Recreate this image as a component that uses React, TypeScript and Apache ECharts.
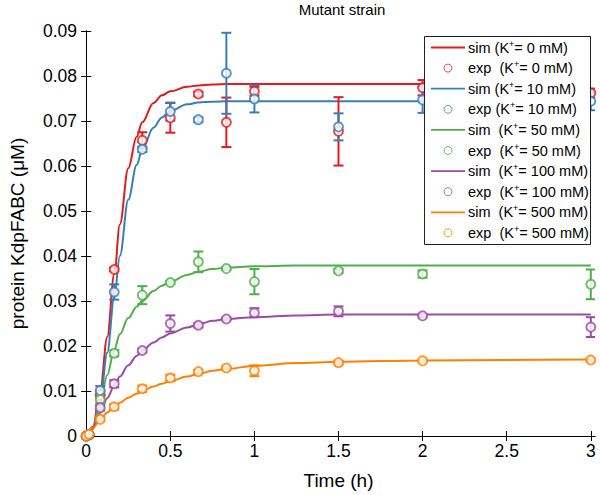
import React, { useEffect, useRef } from "react";
import * as echarts from "echarts";

// ---- data ----
const expTimes = [0, 0.0167, 0.0833, 0.1667, 0.3333, 0.5, 0.6667, 0.8333, 1, 1.5, 2, 3];
const exp0 = [0, 0.0003, 0.0092, 0.037, 0.0657, 0.0707, 0.076, 0.0697, 0.0766, 0.0677, 0.0774, 0.0762];
const err0 = [0, 0.0002, 0.0008, 0.0004, 0.0018, 0.0033, 0.0005, 0.0055, 0.001, 0.0076, 0.0017, 0.001];
const exp10 = [0, 0.0003, 0.0101, 0.032, 0.0637, 0.0721, 0.0703, 0.0806, 0.0749, 0.0687, 0.0747, 0.0744];
const err10 = [0, 0.0002, 0.001, 0.0017, 0.0006, 0.002, 0.0005, 0.009, 0.003, 0.003, 0.0029, 0.002];
const exp50 = [0, 0.0003, 0.0081, 0.0184, 0.0313, 0.0341, 0.0387, 0.0372, 0.0343, 0.0367, 0.036, 0.0337];
const err50 = [0, 0.0002, 0.0007, 0.0007, 0.002, 0.0003, 0.0023, 0.0003, 0.0028, 0.0004, 0.0008, 0.0033];
const exp100 = [0, 0.0003, 0.0063, 0.0116, 0.019, 0.025, 0.0246, 0.026, 0.0274, 0.0277, 0.0267, 0.0242];
const err100 = [0, 0.0002, 0.0006, 0.0008, 0.0004, 0.0018, 0.0005, 0.0003, 0.001, 0.0011, 0.0003, 0.0022];
const exp500 = [0, 0.0004, 0.0037, 0.0065, 0.0105, 0.0129, 0.0143, 0.0151, 0.0145, 0.0163, 0.0167, 0.0169];
const err500 = [0, 0.0002, 0.0004, 0.0006, 0.0007, 0.0007, 0.0004, 0.0003, 0.0012, 0.0004, 0.0002, 0.0003];

const simTimes = [0, 0.04, 0.083, 0.125, 0.167, 0.2, 0.25, 0.3, 0.333, 0.4, 0.45, 0.5, 0.6, 0.667, 0.75, 0.833, 1, 1.25, 1.5, 2, 2.5, 3];
const sim0 = [0, 0.002, 0.01, 0.022, 0.036, 0.047, 0.0595, 0.0665, 0.0697, 0.074, 0.0757, 0.0766, 0.0776, 0.0779, 0.0781, 0.0782, 0.0782, 0.0782, 0.0782, 0.0782, 0.0782, 0.0782];
const sim10 = [0, 0.0015, 0.008, 0.0185, 0.031, 0.04, 0.0525, 0.0602, 0.0637, 0.0685, 0.0708, 0.0722, 0.0737, 0.0741, 0.0743, 0.0744, 0.0744, 0.0744, 0.0744, 0.0744, 0.0744, 0.0744];
const sim50 = [0, 0.0018, 0.0075, 0.0135, 0.0192, 0.0226, 0.0262, 0.0287, 0.03, 0.0322, 0.0334, 0.0343, 0.0358, 0.0365, 0.0371, 0.0374, 0.0377, 0.0379, 0.0379, 0.0379, 0.0379, 0.0379];
const sim100 = [0, 0.0018, 0.0052, 0.0084, 0.0112, 0.0132, 0.0157, 0.0178, 0.0189, 0.0208, 0.0219, 0.0228, 0.0241, 0.0248, 0.0256, 0.026, 0.0264, 0.0268, 0.027, 0.027, 0.027, 0.027];
const sim500 = [0, 0.0017, 0.0037, 0.0052, 0.0064, 0.0074, 0.0085, 0.0094, 0.01, 0.011, 0.0116, 0.0122, 0.0132, 0.0138, 0.0145, 0.0149, 0.0156, 0.0162, 0.0165, 0.0168, 0.0169, 0.017];

const concentrations = ["0", "10", "50", "100", "500"];
const simLabelPrefix = ["sim (K", "sim (K", "sim  (K", "sim  (K", "sim  (K"];
const expLabelPrefix = ["exp  (K", "exp (K", "exp  (K", "exp  (K", "exp  (K"];
const colors = ["#e41a1c", "#377eb8", "#4daf4a", "#984ea3", "#ff7f00"];
const xTicks = [0, 0.5, 1, 1.5, 2, 2.5, 3];

const FONT = "'Liberation Sans', Arial, Helvetica, sans-serif";
// thin horizontal bar inside an 34x8 box (degenerate sub-paths fix the bounding box)
const LINE_ICON = "path://M0,0L34,0L34,0Z M0,3.1H34V4.9H0Z M0,8L34,8L34,8Z";

export default function App() {
  const ref = useRef<HTMLDivElement>(null);
  useEffect(() => {
    document.body.style.margin = "0";
    if (!ref.current) return;
    const chart = echarts.init(ref.current, null, { renderer: "svg" });
    const sims = [sim0, sim10, sim50, sim100, sim500];
    const exps = [exp0, exp10, exp50, exp100, exp500];
    const errs = [err0, err10, err50, err100, err500];

    const series: any[] = [];
    const legendData: any[] = [];
    const labelMap: Record<string, string> = {};
    concentrations.forEach((c, i) => {
      const simName = "sim" + c;
      const expName = "exp" + c;
      labelMap[simName] = `{t|${simLabelPrefix[i]}}{s|+}{t|= ${c} mM)}`;
      labelMap[expName] = `{t|${expLabelPrefix[i]}}{s|+}{t|= ${c} mM)}`;
      legendData.push({ name: simName, icon: LINE_ICON, itemStyle: { color: colors[i], borderWidth: 0 } });
      legendData.push({
        name: expName,
        icon: "circle",
        itemStyle: { color: "#fff", borderColor: colors[i], borderWidth: 1 },
      });
      series.push({
        name: simName,
        type: "line",
        data: simTimes.map((t, k) => [t, sims[i][k]]),
        symbol: "none",
        smooth: 0.35,
        smoothMonotone: "x",
        lineStyle: { color: colors[i], width: 2 },
        itemStyle: { color: colors[i] },
        z: 2,
      });
      series.push({
        name: "err" + c,
        type: "custom",
        clip: true,
        data: expTimes.map((t, k) => [t, exps[i][k] - errs[i][k], exps[i][k] + errs[i][k]]),
        encode: { x: 0, y: [1, 2] },
        renderItem: (params: any, api: any) => {
          const x = api.value(0);
          const lo = api.coord([x, api.value(1)]);
          const hi = api.coord([x, api.value(2)]);
          const hw = 5;
          const style = { stroke: colors[i], lineWidth: 2 };
          return {
            type: "group",
            children: [
              { type: "line", shape: { x1: lo[0], y1: lo[1], x2: hi[0], y2: hi[1] }, style },
              { type: "line", shape: { x1: lo[0] - hw, y1: lo[1], x2: lo[0] + hw, y2: lo[1] }, style },
              { type: "line", shape: { x1: hi[0] - hw, y1: hi[1], x2: hi[0] + hw, y2: hi[1] }, style },
            ],
          };
        },
        z: 3,
      });
      series.push({
        name: expName,
        type: "scatter",
        data: expTimes.map((t, k) => [t, exps[i][k]]),
        symbol: "emptyCircle",
        symbolSize: 9,
        itemStyle: { color: colors[i], borderColor: colors[i], borderWidth: 1.8 },
        z: 4,
      });
    });

    const axisLineStyle = { color: "#000", width: 1 };
    chart.setOption({
      animation: false,
      title: {
        text: "Mutant strain",
        left: 337,
        textAlign: "center",
        top: -3,
        textStyle: { fontFamily: FONT, fontSize: 15, fontWeight: "normal", color: "#000" },
      },
      grid: { left: 78, right: 5, top: 31, bottom: 56.5, containLabel: false },
      graphic: [
        {
          type: "rect",
          z: 9,
          shape: { x: 424.5, y: 36.5, width: 166, height: 208 },
          style: { fill: "#fff", stroke: "#222", lineWidth: 1 },
        },
      ],
      legend: {
        orient: "vertical",
        left: 424,
        top: 36,
        z: 10,
        padding: [3, 3, 3, 7],
        itemGap: 4.6,
        itemWidth: 34,
        itemHeight: 8,
        data: legendData,
        formatter: (name: string) => labelMap[name] || name,
        textStyle: {
          fontFamily: FONT,
          color: "#000",
          padding: [0, 0, 0, -2],
          rich: {
            t: { fontFamily: FONT, fontSize: 14.5, lineHeight: 17, color: "#000" },
            s: { fontFamily: FONT, fontSize: 9, lineHeight: 17, verticalAlign: "top", color: "#000", padding: [0, 0, 6, 0] },
          },
        },
      },
      xAxis: [
        {
          type: "value",
          min: -0.025,
          max: 3.025,
          position: "bottom",
          name: "Time (h)",
          nameLocation: "middle",
          nameGap: 35,
          nameTextStyle: { fontFamily: FONT, fontSize: 19, color: "#000" },
          axisLine: { show: true, lineStyle: axisLineStyle },
          axisTick: { show: true, inside: true, length: 5, customValues: xTicks, lineStyle: axisLineStyle },
          axisLabel: {
            show: true,
            customValues: xTicks,
            margin: 6,
            fontFamily: FONT,
            fontSize: 17.5,
            color: "#000",
            formatter: (v: number) => String(v),
          },
          splitLine: { show: false },
        },
        {
          type: "value",
          min: -0.025,
          max: 3.025,
          position: "top",
          axisLine: { show: true, lineStyle: axisLineStyle },
          axisTick: { show: true, inside: true, length: 5, customValues: xTicks, lineStyle: axisLineStyle },
          axisLabel: { show: false },
          splitLine: { show: false },
        },
      ],
      yAxis: [
        {
          type: "value",
          min: 0,
          max: 0.09,
          interval: 0.01,
          position: "left",
          name: "protein KdpFABC (μM)",
          nameLocation: "middle",
          nameGap: 55,
          nameTextStyle: { fontFamily: FONT, fontSize: 19, color: "#000" },
          axisLine: { show: true, lineStyle: axisLineStyle },
          axisTick: { show: true, inside: true, length: 5, lineStyle: axisLineStyle },
          axisLabel: {
            margin: 5,
            fontFamily: FONT,
            fontSize: 17.5,
            color: "#000",
            formatter: (v: number) => (v === 0 ? "0" : v.toFixed(2)),
          },
          splitLine: { show: false },
        },
        {
          type: "value",
          min: 0,
          max: 0.09,
          interval: 0.01,
          position: "right",
          axisLine: { show: true, lineStyle: axisLineStyle },
          axisTick: { show: true, inside: true, length: 5, lineStyle: axisLineStyle },
          axisLabel: { show: false },
          splitLine: { show: false },
        },
      ],
      series,
    });
    return () => chart.dispose();
  }, []);
  return <div ref={ref} style={{ width: 600, height: 495 }} />;
}
